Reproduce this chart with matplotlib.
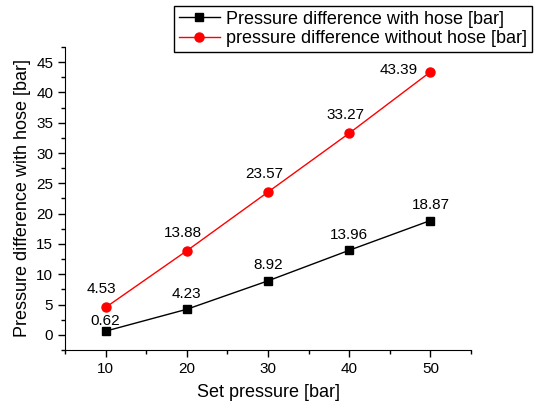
"""Pressure difference chart."""

import matplotlib
matplotlib.use("Agg")
import matplotlib.pyplot as plt
from matplotlib.ticker import MultipleLocator

plt.rcParams["font.family"] = ["Liberation Sans", "DejaVu Sans"]

set_pressure = [10, 20, 30, 40, 50]
with_hose = [0.62, 4.23, 8.92, 13.96, 18.87]
without_hose = [4.53, 13.88, 23.57, 33.27, 43.39]
label_with = "Pressure difference with hose [bar]"
label_without = "pressure difference without hose [bar]"

fig = plt.figure(figsize=(5.39, 4.08), dpi=100)
ax = fig.add_axes([0.1206, 0.142, 0.7534, 0.743])

ax.plot(set_pressure, with_hose, color="black", marker="s", markersize=5.5,
        linewidth=1, label=label_with)
ax.plot(set_pressure, without_hose, color="red", marker="o", markersize=6.5,
        linewidth=1, label=label_without)

# value labels above points (last red one sits left of its point, near the legend)
for i, (x, y) in enumerate(zip(set_pressure, with_hose)):
    dy = 2 if i == 0 else 6
    ax.annotate(f"{y:.2f}", (x, y), xytext=(0, dy), textcoords="offset points",
                ha="center", va="bottom", fontsize=11)
for i, (x, y) in enumerate(zip(set_pressure, without_hose)):
    if i == len(set_pressure) - 1:
        ax.annotate(f"{y:.2f}", (x, y), xytext=(-9, 1), textcoords="offset points",
                    ha="right", va="center", fontsize=11)
    else:
        ax.annotate(f"{y:.2f}", (x, y), xytext=(-3, 8), textcoords="offset points",
                    ha="center", va="bottom", fontsize=11)

ax.set_xlim(5, 55)
ax.set_ylim(-2.5, 47.5)
ax.xaxis.set_major_locator(MultipleLocator(10))
ax.xaxis.set_minor_locator(MultipleLocator(5))
ax.yaxis.set_major_locator(MultipleLocator(5))
ax.yaxis.set_minor_locator(MultipleLocator(2.5))
ax.set_xticks([10, 20, 30, 40, 50])
ax.tick_params(which="major", direction="out", length=5, width=1, labelsize=11)
ax.tick_params(which="minor", direction="out", length=3, width=1)
ax.spines["top"].set_visible(False)
ax.spines["right"].set_visible(False)

ax.set_xlabel("Set pressure [bar]", fontsize=13, labelpad=6)
ax.set_ylabel("Pressure difference with hose [bar]", fontsize=13, labelpad=4)

leg = fig.legend(loc="upper right", bbox_to_anchor=(0.987, 0.985), fontsize=13,
                 frameon=True, fancybox=False, edgecolor="black",
                 handlelength=2.3, borderpad=0.25, labelspacing=0.15,
                 handletextpad=0.35, borderaxespad=0, framealpha=1)
leg.get_frame().set_linewidth(1)

fig.savefig("out.png", dpi=100)
plt.close(fig)
